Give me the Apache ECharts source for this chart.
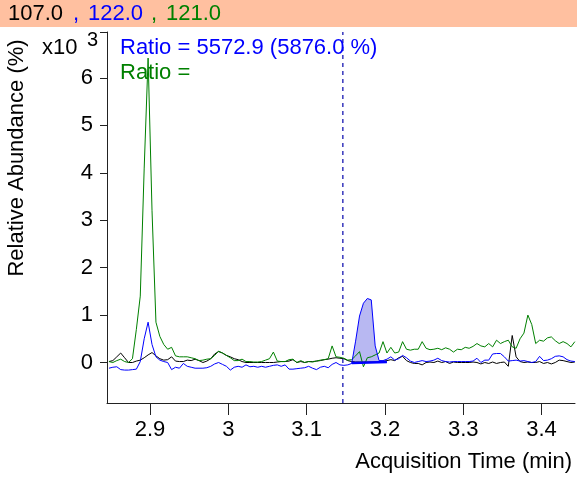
<!DOCTYPE html>
<html>
<head>
<meta charset="utf-8">
<script src="https://cdn.jsdelivr.net/npm/echarts@6/dist/echarts.min.js"></script>
<style>
html,body{margin:0;padding:0;background:#fff;}
#c{width:577px;height:477px;}
</style>
</head>
<body>
<div id="c"></div>
<script>
// ---- data ----
const startTime = 2.8475;
const timeStep = 0.005;
const blackTrace = [0.02,0.04,0.12,0.2,0.1,0.0,0.0,0.03,0.05,0.1,
  0.16,0.21,0.14,0.08,0.05,0.06,0.12,0.03,0.02,0.02,
  0.05,0.04,0.07,0.04,0.0,0.03,0.08,0.18,0.23,0.2,
  0.15,0.12,0.08,0.06,0.02,0.0,0.0,0.0,0.0,0.0,
  0.0,0.0,0.0,0.01,0.02,0.02,0.03,0.06,0.0,0.02,
  0.0,0.02,0.02,0.03,0.04,0.06,0.07,0.09,0.1,0.09,
  0.08,0.04,0.02,0.01,0.01,0.01,0.01,0.01,0.01,0.01,
  0.02,0.04,0.06,0.04,0.1,0.13,0.04,0.0,-0.02,-0.02,
  -0.05,0.0,0.01,0.0,0.03,0.0,0.02,-0.02,0.01,0.0,
  0.0,0.0,0.0,0.01,0.0,-0.03,0.0,-0.02,0.01,-0.02,
  0.0,0.01,-0.08,0.57,0.12,0.02,0.0,0.01,0.0,0.0,
  0.02,-0.02,0.0,-0.03,0.0,0.05,0.04,0.02,0.0,0.01];
const blueTrace = [-0.12,-0.1,-0.09,-0.15,-0.16,-0.16,-0.15,-0.14,0.02,0.5,
  0.85,0.38,0.12,0.05,0.02,0.0,-0.15,-0.1,-0.12,-0.02,
  -0.08,-0.1,-0.12,-0.12,-0.12,-0.11,-0.08,-0.03,0.0,-0.04,
  -0.08,-0.16,-0.1,-0.08,-0.1,-0.05,-0.09,-0.08,-0.1,-0.08,
  -0.1,-0.08,-0.06,-0.05,-0.08,-0.05,-0.14,-0.14,-0.13,-0.12,
  -0.11,-0.08,-0.12,-0.15,-0.1,-0.08,-0.11,-0.04,0.0,-0.05,
  -0.06,-0.05,-0.02,0.45,0.98,1.25,1.35,1.32,0.35,0.04,
  0.04,0.07,0.12,0.05,0.08,0.15,0.1,0.03,0.0,0.02,
  0.04,0.02,0.03,0.05,0.09,0.04,0.02,0.01,0.02,0.02,
  0.02,0.02,0.02,0.03,0.09,0.0,0.05,0.05,0.18,0.19,
  0.19,0.12,0.03,0.04,0.05,0.03,0.04,0.02,0.0,0.02,
  0.13,0.04,0.05,0.08,0.13,0.14,0.12,0.06,0.03,0.02];
const greenTrace = [0.02,0.0,0.04,0.07,0.02,0.0,0.08,0.7,1.4,4.1,
  6.42,3.2,0.85,0.55,0.38,0.28,0.32,0.14,0.12,0.12,
  0.12,0.1,0.08,0.04,0.05,0.07,0.08,0.15,0.24,0.2,
  0.15,0.1,0.04,0.04,0.07,0.02,0.02,0.01,0.01,0.02,
  0.05,0.08,0.22,0.03,0.02,0.02,0.06,0.07,0.0,0.04,
  0.0,0.02,0.01,0.03,0.05,0.06,0.08,0.35,0.12,0.11,
  0.09,0.05,0.06,0.14,0.23,-0.09,0.1,0.12,0.16,0.2,
  0.44,0.2,0.32,0.2,0.22,0.44,0.28,0.26,0.28,0.28,
  0.44,0.3,0.27,0.28,0.3,0.27,0.31,0.28,0.22,0.28,
  0.27,0.32,0.3,0.34,0.4,0.35,0.33,0.4,0.33,0.47,
  0.4,0.44,0.47,0.33,0.3,0.5,0.62,1.0,0.8,0.4,
  0.47,0.45,0.52,0.54,0.46,0.4,0.44,0.4,0.33,0.44];
const peakStartIndex = 62;
const peakEndIndex = 71;
const baselineTimes = [3.1575, 3.2025];
const baselineLevels = [-0.01, 0.01];
const markerTime = 3.1462;
const xTicks = [2.9, 3, 3.1, 3.2, 3.3, 3.4];
const yTicks = [0, 1, 2, 3, 4, 5, 6];
const xMin = 2.845, xMax = 3.4427;
const yMin = -0.854, yMax = 6.97;
const headerMasses = ['107.0', '122.0', '121.0'];
const ratioText = 'Ratio = 5572.9 (5876.0 %)';
const ratioText2 = 'Ratio =';

// ---- build ----
const times = blackTrace.map((_, i) => +(startTime + i * timeStep).toFixed(4));
const pairs = arr => arr.map((v, i) => [times[i], v]);
const peakData = [];
for (let i = peakStartIndex; i <= peakEndIndex; i++) peakData.push([times[i], blueTrace[i]]);
const baselineData = baselineTimes.map((t, i) => [t, baselineLevels[i]]);
const markerData = [[markerTime, yMin], [markerTime, yMax]];

const FONT = '"Liberation Sans", Arial, sans-serif';
const F22 = '22px ' + FONT;
const BLUE = '#0000ff', GREEN = '#008000', BLACK = '#000000';

const chart = echarts.init(document.getElementById('c'), null, {renderer: 'canvas'});
chart.setOption({
  animation: false,
  backgroundColor: '#ffffff',
  grid: {left: 107, top: 32, width: 468, height: 371, containLabel: false},
  xAxis: {
    type: 'value', min: xMin, max: xMax,
    axisLine: {onZero: false, lineStyle: {color: '#222', width: 1}},
    axisTick: {customValues: xTicks, length: 12, lineStyle: {color: '#222'}},
    axisLabel: {customValues: xTicks, formatter: v => String(v), fontSize: 22, color: '#000', margin: 16, fontFamily: FONT},
    splitLine: {show: false}
  },
  yAxis: {
    type: 'value', min: yMin, max: yMax,
    axisLine: {show: true, onZero: false, lineStyle: {color: '#222', width: 1}},
    axisTick: {show: true, customValues: yTicks.concat([yMax]), length: 7, lineStyle: {color: '#222'}},
    axisLabel: {customValues: yTicks, formatter: v => String(v), fontSize: 22, color: '#000', margin: 14, fontFamily: FONT},
    splitLine: {show: false}
  },
  series: [
    {type: 'line', data: peakData, showSymbol: false, symbol: 'none', z: 1,
     lineStyle: {width: 0}, areaStyle: {color: '#b8b8f2', opacity: 1, origin: 0}},
    {type: 'line', data: markerData, showSymbol: false, symbol: 'none', z: 2,
     lineStyle: {color: '#2828b8', width: 1.4, type: [4, 4]}},
    {type: 'line', data: pairs(blackTrace), showSymbol: false, symbol: 'none', z: 3,
     lineStyle: {color: BLACK, width: 1}},
    {type: 'line', data: pairs(greenTrace), showSymbol: false, symbol: 'none', z: 4,
     lineStyle: {color: GREEN, width: 1}},
    {type: 'line', data: pairs(blueTrace), showSymbol: false, symbol: 'none', z: 5,
     lineStyle: {color: BLUE, width: 1}},
    {type: 'line', data: baselineData, showSymbol: false, symbol: 'none', z: 6,
     lineStyle: {color: BLUE, width: 2.5}}
  ],
  graphic: [
    {type: 'rect', left: 0, top: 0, shape: {width: 577, height: 27}, style: {fill: '#ffc0a0'}, z: 10},
    {type: 'text', x: 8, y: 14, z: 11, style: {text: headerMasses[0], fill: BLACK, font: F22, verticalAlign: 'middle'}},
    {type: 'text', x: 73, y: 14, z: 11, style: {text: ',', fill: BLUE, font: F22, verticalAlign: 'middle'}},
    {type: 'text', x: 88, y: 14, z: 11, style: {text: headerMasses[1], fill: BLUE, font: F22, verticalAlign: 'middle'}},
    {type: 'text', x: 151, y: 14, z: 11, style: {text: ',', fill: GREEN, font: F22, verticalAlign: 'middle'}},
    {type: 'text', x: 166, y: 14, z: 11, style: {text: headerMasses[2], fill: GREEN, font: F22, verticalAlign: 'middle'}},
    {type: 'text', x: 42, y: 48, z: 11, style: {text: 'x10', fill: '#000', font: F22, verticalAlign: 'middle'}},
    {type: 'text', x: 87, y: 40, z: 11, style: {text: '3', fill: '#000', font: '20px ' + FONT, verticalAlign: 'middle'}},
    {type: 'text', x: 120, y: 48, z: 11, style: {text: ratioText, fill: BLUE, font: F22, verticalAlign: 'middle'}},
    {type: 'text', x: 120, y: 73, z: 11, style: {text: ratioText2, fill: GREEN, font: F22, verticalAlign: 'middle'}},
    {type: 'text', x: 17, y: 158, rotation: Math.PI / 2, z: 11, style: {text: 'Relative Abundance (%)', fill: '#000', font: F22, align: 'center', verticalAlign: 'middle'}},
    {type: 'text', x: 572, y: 462, z: 11, style: {text: 'Acquisition Time (min)', fill: '#000', font: F22, align: 'right', verticalAlign: 'middle'}}
  ]
});
</script>
</body>
</html>
